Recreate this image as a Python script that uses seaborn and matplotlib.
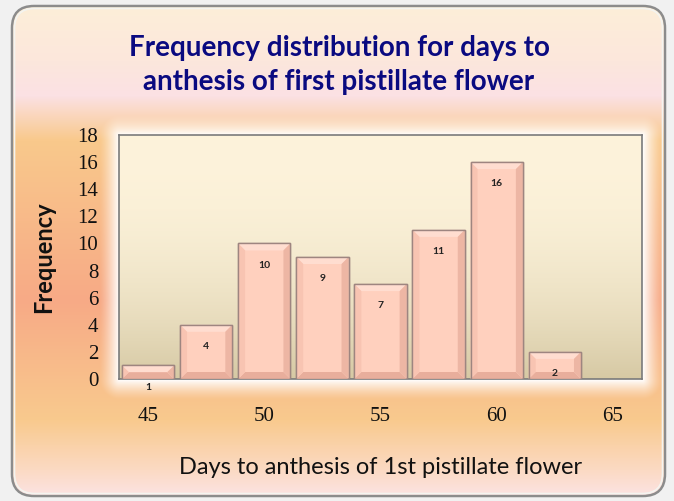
import numpy as np
import matplotlib
matplotlib.use("Agg")
import matplotlib.pyplot as plt
from matplotlib.colors import to_rgb
from matplotlib.patches import FancyBboxPatch, Polygon
import seaborn as sns

# ---- data ----
bin_centers = [45, 47.5, 50, 52.5, 55, 57.5, 60, 62.5]
frequency = [1, 4, 10, 9, 7, 11, 16, 2]
x_ticks = [45, 50, 55, 60, 65]
y_ticks = [0, 2, 4, 6, 8, 10, 12, 14, 16, 18]

title = "Frequency distribution for days to\nanthesis of first pistillate flower"
x_label = "Days to anthesis of 1st pistillate flower"
y_label = "Frequency"

W, H = 674, 501
sns.set_style("white")
plt.rcParams["font.family"] = ["Lato", "DejaVu Sans"]

fig = plt.figure(figsize=(W / 100, H / 100), dpi=100)

# ---- background panel: vertical gradient + white glow round the plot area ----
plot_box = (119, 135, 642, 379)  # left, top, right, bottom in pixels
stops_y = [0, 60, 95, 140, 300, 420, 470, 501]
stops_c = ["#FDEFD8", "#FCE7DC", "#FBE1E4", "#F9C98C", "#F7AA86",
           "#F9CA8E", "#FBDAC4", "#FCE5EA"]
rgb = np.array([to_rgb(c) for c in stops_c])
yy = np.arange(H)
col = np.stack([np.interp(yy, stops_y, rgb[:, k]) for k in range(3)], axis=1)
img = np.repeat(col[:, None, :], W, axis=1)

gx, gy = np.meshgrid(np.arange(W), np.arange(H))
l, t, r, b = plot_box
dx = np.maximum(np.maximum(l - gx, gx - r), 0)
dy = np.maximum(np.maximum(t - gy, gy - b), 0)
dist = np.hypot(dx, dy)
glow = np.clip(1 - dist / 20.0, 0, 1) ** 1.3
img = img * (1 - glow[..., None]) + glow[..., None]

bg = fig.add_axes([0, 0, 1, 1], zorder=-5)
bg.set_xlim(0, W)
bg.set_ylim(H, 0)
bg.axis("off")
bg.add_patch(plt.Rectangle((0, 0), W, H, color="#F1F1F1", zorder=0))
frame = FancyBboxPatch((12, 6), 653, 490, boxstyle="round,pad=0,rounding_size=22",
                       facecolor="none", edgecolor="#8C8C8C", lw=1.8, zorder=3)
im = bg.imshow(img, extent=[0, W, H, 0], aspect="auto", zorder=1)
bg.add_patch(frame)
im.set_clip_path(frame)
bg.add_patch(FancyBboxPatch((14.5, 8.5), 648, 485, boxstyle="round,pad=0,rounding_size=20",
                            facecolor="none", edgecolor="#F4F4F0", lw=1.2, zorder=3))

# ---- main axes ----
ax = fig.add_axes([l / W, 1 - b / H, (r - l) / W, (b - t) / H])

# plot-area gradient (cream at top to tan at bottom)
grad = np.linspace(0, 1, 256)[:, None]
top_c, bot_c = np.array(to_rgb("#FDF3DB")), np.array(to_rgb("#D6C9A4"))
mix = grad ** 2.2
area = top_c * (1 - mix[..., None]) + bot_c * mix[..., None]
area = np.repeat(area, 4, axis=1)
ax.imshow(area, extent=[0, 1, 0, 1], transform=ax.transAxes, aspect="auto", zorder=0)

sns.barplot(x=bin_centers, y=frequency, native_scale=True, width=0.9, saturation=1,
            color="#FFD0BE", edgecolor="#9E8580", linewidth=1.0, ax=ax, zorder=2)

ax.set_xlim(43.75, 66.25)
ax.set_ylim(0, 18)

# bevel on each bar, built from the bar patches
px_x = (r - l) / 22.5
px_y = (b - t) / 18.0
bev_x, bev_y = 7 / px_x, 7 / px_y
for p in list(ax.patches):
    x0, w, h = p.get_x(), p.get_width(), p.get_height()
    by = min(bev_y, h / 2)
    bx = bev_x
    x1 = x0 + w
    ax.add_patch(Polygon([(x0, h), (x1, h), (x1 - bx, h - by), (x0 + bx, h - by)],
                         closed=True, fc="#FFDDD0", ec="none", zorder=3))
    ax.add_patch(Polygon([(x0, 0), (x1, 0), (x1 - bx, by), (x0 + bx, by)],
                         closed=True, fc="#E8AE9C", ec="none", zorder=3))
    ax.add_patch(Polygon([(x0, 0), (x0, h), (x0 + bx, h - by), (x0 + bx, by)],
                         closed=True, fc="#F8C4B2", ec="none", zorder=3))
    ax.add_patch(Polygon([(x1, 0), (x1, h), (x1 - bx, h - by), (x1 - bx, by)],
                         closed=True, fc="#EDB6A4", ec="none", zorder=3))
    ax.add_patch(plt.Rectangle((x0, 0), w, h, fc="none", ec="#9E8580", lw=1.0, zorder=4))

ax.bar_label(ax.containers[0], padding=-19, fontsize=7.5, fontweight="bold",
             color="#222222", zorder=5)

ax.set_xticks(x_ticks)
ax.set_yticks(y_ticks)
ax.tick_params(axis="both", length=0, labelsize=15, labelcolor="#111111")
ax.tick_params(axis="x", pad=20)
ax.tick_params(axis="y", pad=15)
for lab in ax.get_xticklabels() + ax.get_yticklabels():
    lab.set_family("Liberation Serif")

for s in ax.spines.values():
    s.set_color("#7A7A7A")
    s.set_linewidth(1.2)

ax.set_xlabel(x_label, fontsize=17, color="#111111")
ax.set_ylabel(y_label, fontsize=17, fontweight="bold", color="#111111")
ax.xaxis.set_label_coords(0.5, -0.32)
ax.yaxis.set_label_coords(-0.122, 0.5)

fig.text(0.503, 0.871, title, ha="center", va="center", fontsize=20,
         fontweight="bold", color="#0A0A80", linespacing=1.38)

fig.savefig("out.png", dpi=100)
